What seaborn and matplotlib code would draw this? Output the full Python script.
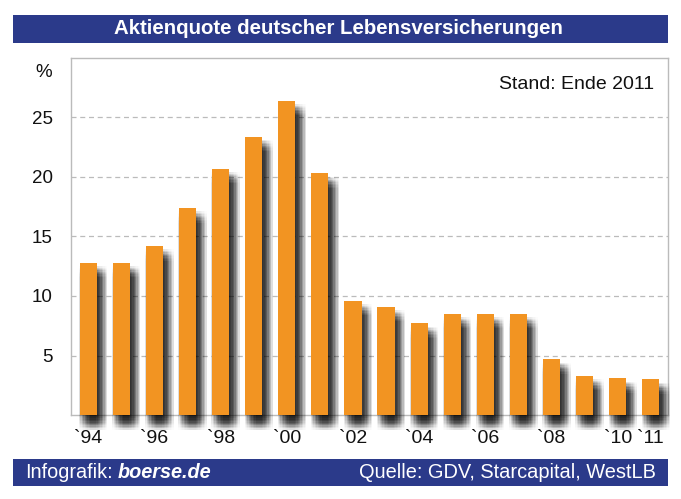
import matplotlib
matplotlib.use("Agg")
import matplotlib.pyplot as plt
import matplotlib.patheffects as pe
from matplotlib.patches import Rectangle
import seaborn as sns
import pandas as pd

years = ["1994", "1995", "1996", "1997", "1998", "1999", "2000", "2001", "2002",
         "2003", "2004", "2005", "2006", "2007", "2008", "2009", "2010", "2011"]
values = [12.8, 12.8, 14.2, 17.4, 20.7, 23.4, 26.4, 20.3, 9.6,
          9.1, 7.7, 8.5, 8.5, 8.5, 4.7, 3.3, 3.1, 3.0]
tick_labels = ["`94", "", "`96", "", "`98", "", "`00", "", "`02", "",
               "`04", "", "`06", "", "`08", "", "`10", "`11"]
y_ticks = [5, 10, 15, 20, 25]

title = "Aktienquote deutscher Lebensversicherungen"
note = "Stand: Ende 2011"
source = "Quelle: GDV, Starcapital, WestLB"

ORANGE = "#F29422"
BLUE = "#2B3A8A"

sns.set_theme(style="white")
plt.rcParams["font.family"] = ["Liberation Sans", "DejaVu Sans"]

df = pd.DataFrame({"year": years, "value": values})

fig = plt.figure(figsize=(6.81, 4.99), dpi=100)
ax = fig.add_axes([71 / 681, (499 - 415) / 499, (668 - 71) / 681, (415 - 58) / 499])

sns.barplot(data=df, x="year", y="value", color=ORANGE, saturation=1,
            width=0.52, ax=ax, zorder=3)

# blurred drop shadow approximation
effects = []
steps = [-4, -3, -2, -1, 0, 1, 2, 3, 4]
for dx in steps:
    for dy in steps:
        w = 1.0 - 0.08 * (abs(dx) + abs(dy))
        effects.append(pe.SimplePatchShadow(offset=(3.6 + dx * 1.0, -6.5 + dy * 1.0),
                                            shadow_rgbFace="black", alpha=0.028 * w))
effects.append(pe.Normal())
for p in ax.patches:
    p.set_path_effects(effects)
    p.set_clip_on(False)
    p.set_edgecolor("none")

ax.set_ylim(0, 30)
ax.set_xlim(-0.52, 17.52)
ax.set_yticks(y_ticks)
ax.set_yticklabels([str(v) for v in y_ticks], fontsize=13.5)
ax.set_xticks(range(len(years)))
ax.set_xticklabels(tick_labels, fontsize=14)
ax.set_xlabel("")
ax.set_ylabel("")
ax.tick_params(axis="both", length=0, colors="#111111")
ax.tick_params(axis="x", pad=11)
ax.tick_params(axis="y", pad=13)
ax.yaxis.grid(True, linestyle=(0, (4, 3)), color="#BBBBBB", linewidth=0.9)
ax.set_axisbelow(True)
for s in ax.spines.values():
    s.set_color("#BBBBBB")
    s.set_linewidth(1.0)
    s.set_visible(True)

ax.text(-0.032, 28.8, "%", transform=ax.get_yaxis_transform(), ha="right",
        va="center", fontsize=13.5, color="#111111")
ax.text(0.977, 0.925, note, transform=ax.transAxes, ha="right", va="center",
        fontsize=14, color="#111111")

# title banner
fig.patches.append(Rectangle((13 / 681, (499 - 43) / 499), 655 / 681, 28 / 499,
                             transform=fig.transFigure, facecolor=BLUE,
                             edgecolor="none", zorder=0))
fig.text(338 / 681, (499 - 29) / 499, title, ha="center", va="center",
         color="white", fontsize=14.7, fontweight="bold")

# footer banner
fig.patches.append(Rectangle((13 / 681, (499 - 486) / 499), 655 / 681, 27 / 499,
                             transform=fig.transFigure, facecolor=BLUE,
                             edgecolor="none", zorder=0))
fig.text(25 / 681, (499 - 472) / 499, "Infografik:", ha="left", va="center",
         color="white", fontsize=14.3)
fig.text(118 / 681, (499 - 472) / 499, "boerse.de", ha="left", va="center",
         color="white", fontsize=14.3, fontweight="bold", fontstyle="italic")
fig.text(656 / 681, (499 - 472) / 499, source, ha="right", va="center",
         color="white", fontsize=14.4)

fig.savefig("out.png", dpi=100, facecolor="white")
